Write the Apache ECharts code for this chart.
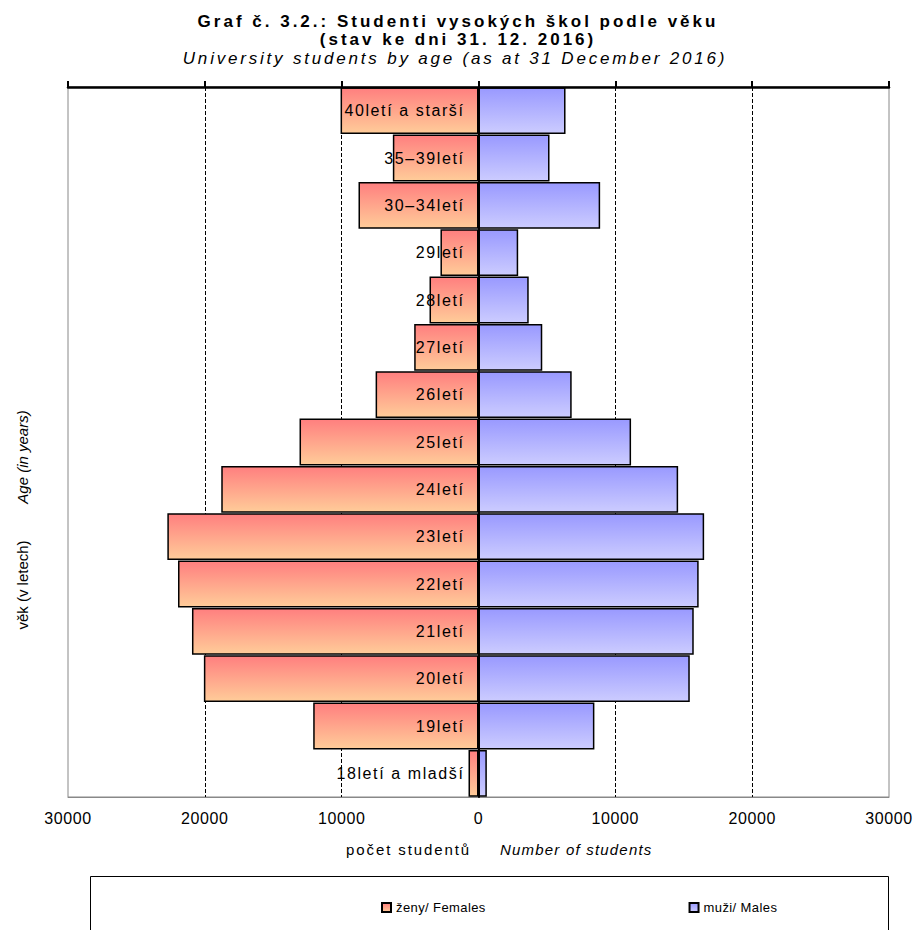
<!DOCTYPE html>
<html>
<head>
<meta charset="utf-8">
<script src="https://cdn.jsdelivr.net/npm/echarts@6/dist/echarts.min.js"></script>
<style>
html,body{margin:0;padding:0;background:#fff;}
#main{width:917px;height:930px;}
</style>
</head>
<body>
<div id="main"></div>
<script>
// Data (bottom to top)
const categories = ['18letí a mladší','19letí','20letí','21letí','22letí','23letí','24letí','25letí','26letí','27letí','28letí','29letí','30–34letí','35–39letí','40letí a starší'];
const females = [730, 12080, 20070, 20940, 21960, 22740, 18800, 13080, 7520, 4700, 3580, 2780, 8770, 6260, 10080];
const males = [610, 8470, 15440, 15730, 16090, 16490, 14590, 11150, 6810, 4660, 3670, 2900, 8890, 5190, 6360];
const titleLines = ['Graf č. 3.2.: Studenti vysokých škol podle věku', '(stav ke dni 31. 12. 2016)', 'University students by age (as at 31 December 2016)'];
const xNameCz = 'počet studentů';
const xNameEn = 'Number of students';
const yNameCz = 'věk (v letech)';
const yNameEn = 'Age (in years)';
const seriesNames = ['ženy/ Females', 'muži/ Males'];

const FONT = '"Liberation Sans", Arial, sans-serif';
const chart = echarts.init(document.getElementById('main'), null, {renderer: 'svg'});

const fGrad = new echarts.graphic.LinearGradient(0, 0, 0, 1, [
  {offset: 0, color: '#FF7F7F'}, {offset: 1, color: '#FFCC99'}
]);
const mGrad = new echarts.graphic.LinearGradient(0, 0, 0, 1, [
  {offset: 0, color: '#9999FF'}, {offset: 1, color: '#CCCCFF'}
]);

chart.setOption({
  backgroundColor: '#fff',
  animation: false,
  textStyle: {fontFamily: FONT},
  title: [
    {text: titleLines[0], left: 453, textAlign: 'center', top: 8,
     textStyle: {fontSize: 17, lineHeight: 17, fontWeight: 'bold', color: '#000', fontFamily: FONT}},
    {text: titleLines[1], left: 453, textAlign: 'center', top: 26,
     textStyle: {fontSize: 17, lineHeight: 17, fontWeight: 'bold', color: '#000', fontFamily: FONT}},
    {text: titleLines[2], left: 450, textAlign: 'center', top: 45,
     textStyle: {fontSize: 17, lineHeight: 17, fontWeight: 'normal', fontStyle: 'italic', color: '#000', fontFamily: FONT}}
  ],
  grid: {left: 68, right: 28, top: 87, bottom: 133, show: true, borderColor: '#888', borderWidth: 1,
         containLabel: false, outerBoundsMode: 'none'},
  legend: {
    data: seriesNames,
    left: 376, top: 896, itemGap: 208, itemWidth: 9, itemHeight: 9, icon: 'rect',
    textStyle: {fontSize: 13, color: '#000', fontFamily: FONT}
  },
  xAxis: [
    {type: 'value', position: 'bottom', min: -30000, max: 30000, interval: 10000,
     axisLine: {show: true, onZero: false, lineStyle: {color: '#888', width: 1}},
     axisTick: {show: false},
     axisLabel: {formatter: v => String(Math.abs(v)), color: '#000', fontSize: 16, margin: 13, fontFamily: FONT},
     splitLine: {show: true, showMinLine: false, showMaxLine: false, lineStyle: {color: '#000', type: [4, 2], width: 1}}},
    {type: 'value', position: 'top', min: -30000, max: 30000, interval: 10000,
     axisLine: {show: true, onZero: false, lineStyle: {color: '#000', width: 2.5}},
     axisTick: {show: true, length: 6, lineStyle: {color: '#000', width: 2}},
     axisLabel: {show: false}, splitLine: {show: false}, z: 10}
  ],
  yAxis: {
    type: 'category', data: categories, z: 10,
    axisLine: {show: true, onZero: true, lineStyle: {color: '#000', width: 2}},
    axisTick: {show: false},
    axisLabel: {show: false},
    splitLine: {show: false}
  },
  series: [
    {name: seriesNames[0], type: 'bar', stack: 'pop', barCategoryGap: '1%',
     data: females.map(v => -v),
     itemStyle: {color: fGrad, borderColor: '#000', borderWidth: 1.5},
     label: {show: true, position: 'insideRight', distance: 14, color: '#000', fontSize: 16, fontFamily: FONT,
             formatter: p => categories[p.dataIndex]},
     z: 3},
    {name: seriesNames[1], type: 'bar', stack: 'pop', barCategoryGap: '1%',
     data: males,
     itemStyle: {color: mGrad, borderColor: '#000', borderWidth: 1.5}}
  ],
  graphic: [
    {type: 'rect', shape: {x: 90.5, y: 876.5, width: 798, height: 80}, style: {fill: 'none', stroke: '#000', lineWidth: 1}, z: -1},
    {type: 'text', left: 346, top: 842, style: {text: xNameCz, fontSize: 15, fill: '#000', fontFamily: FONT}},
    {type: 'text', left: 500, top: 842, style: {text: xNameEn, fontSize: 15, fill: '#000', fontStyle: 'italic', fontFamily: FONT}},
    {type: 'text', x: 22, y: 585, rotation: Math.PI / 2, style: {text: yNameCz, fontSize: 15, fill: '#000', fontFamily: FONT, align: 'center', verticalAlign: 'middle'}},
    {type: 'text', x: 22, y: 457, rotation: Math.PI / 2, style: {text: yNameEn, fontSize: 15, fill: '#000', fontStyle: 'italic', fontFamily: FONT, align: 'center', verticalAlign: 'middle'}}
  ]
});

// widen letter spacing like the reference rendering
function applySpacing() {
  const texts = document.querySelectorAll('#main svg text');
  texts.forEach(t => {
    const s = t.textContent;
    let ls = null;
    if (s === titleLines[0] || s === titleLines[1]) ls = 3.0;
    else if (s === titleLines[2]) ls = 2.8;
    else if (categories.indexOf(s) >= 0) ls = 1.6;
    else if (/^\d+$/.test(s)) ls = 0.6;
    else if (s === xNameCz) ls = 1.9;
    else if (s === xNameEn) ls = 1.2;
    else if (seriesNames.indexOf(s) >= 0) ls = 0.4;
    if (ls !== null) t.setAttribute('letter-spacing', ls + 'px');
  });
}
chart.on('finished', applySpacing);
setTimeout(applySpacing, 50);
setTimeout(applySpacing, 300);
</script>
</body>
</html>
